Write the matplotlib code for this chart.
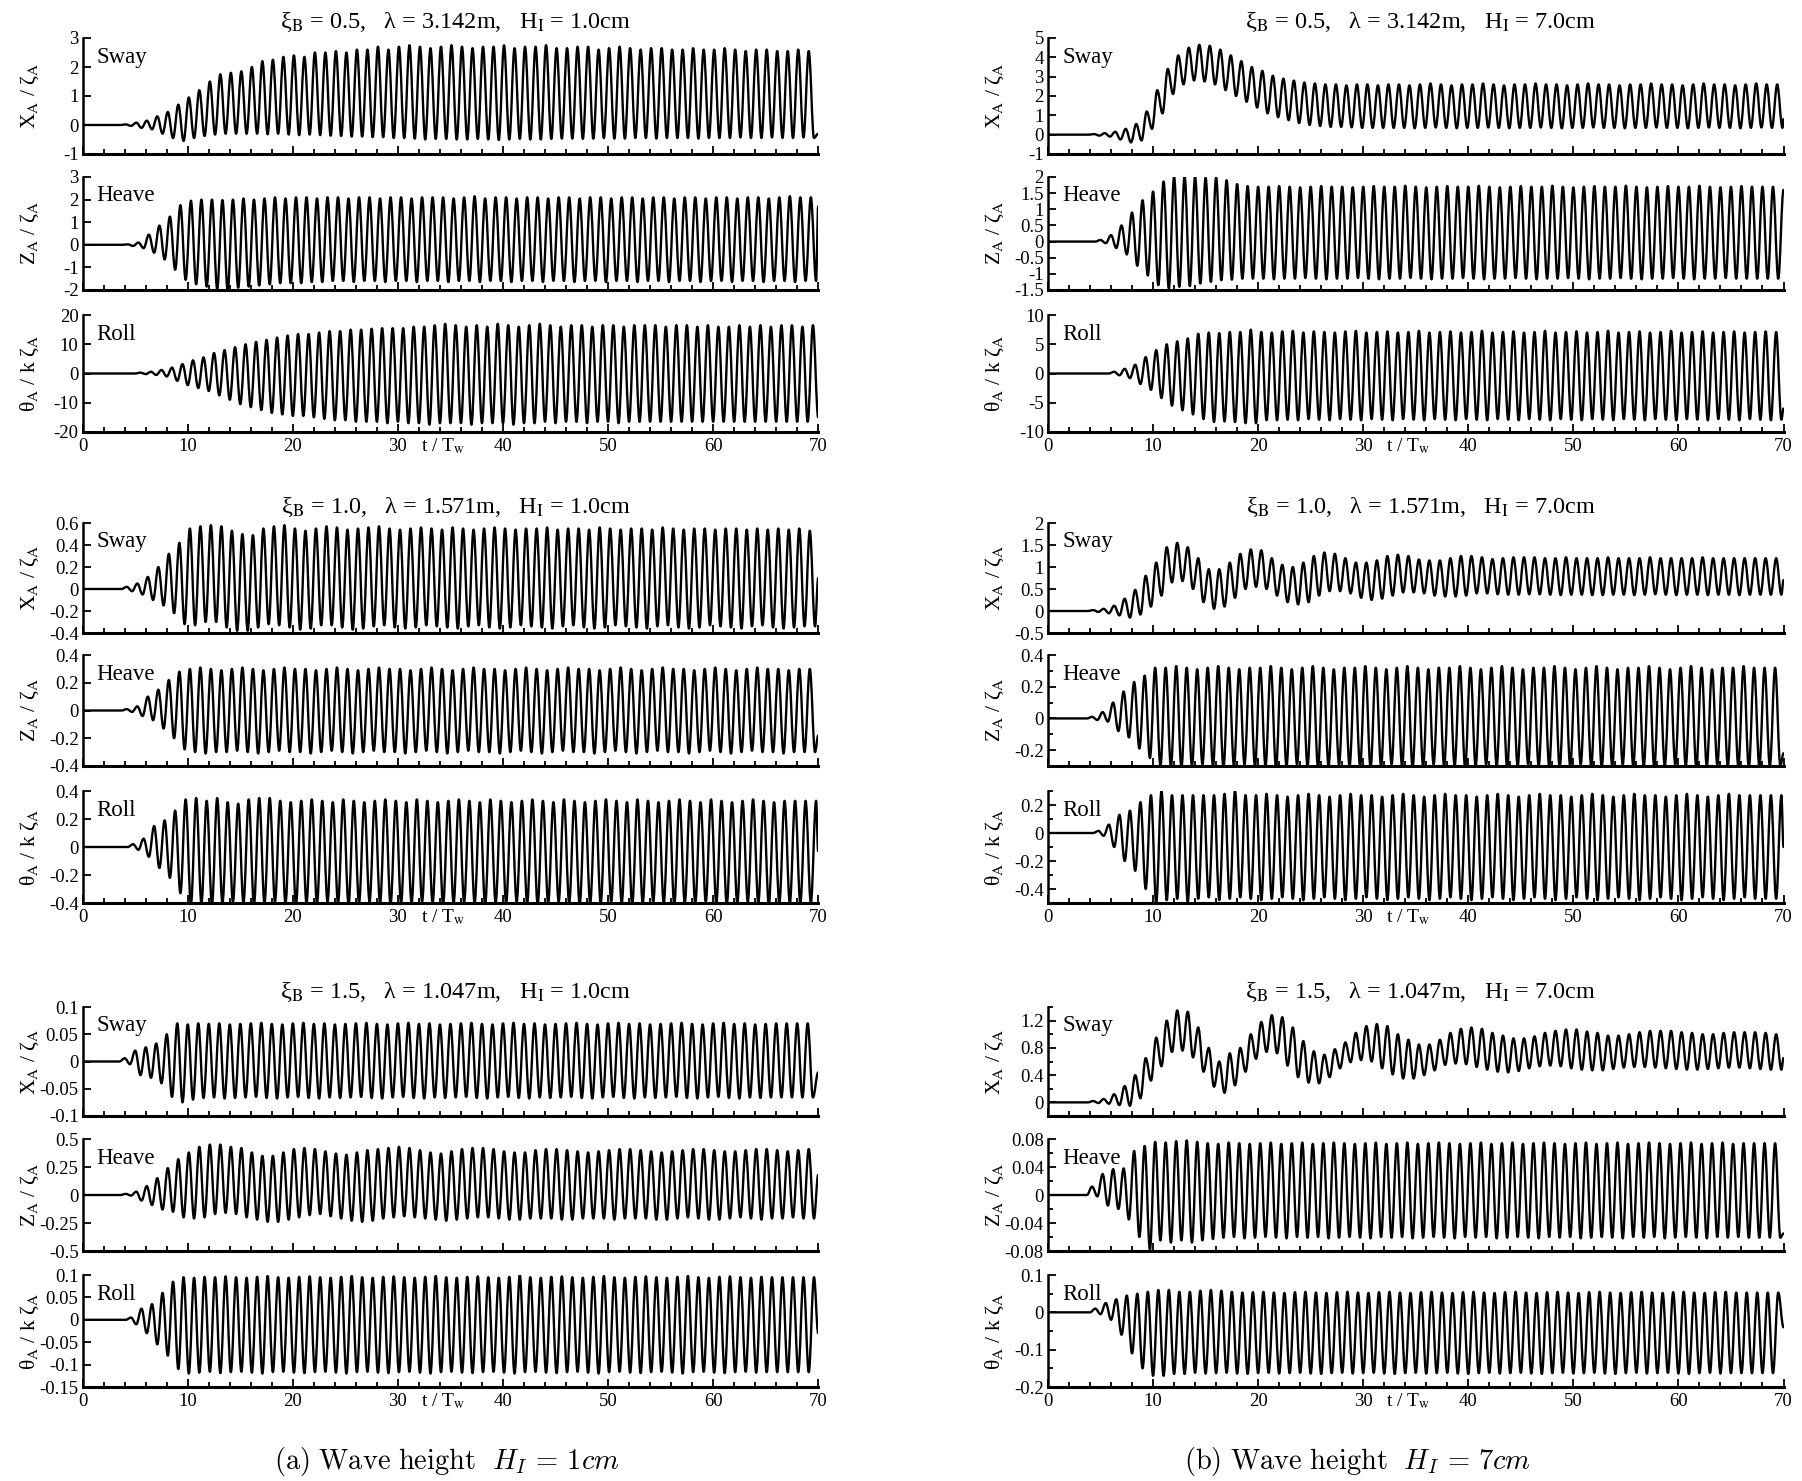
import numpy as np
import matplotlib
matplotlib.use("Agg")
import matplotlib.pyplot as plt
from matplotlib.ticker import FixedLocator, MultipleLocator, FormatStrFormatter
from matplotlib.transforms import blended_transform_factory
from matplotlib.path import Path
from matplotlib.patches import PathPatch

plt.rcParams['font.family'] = ['Liberation Serif', 'DejaVu Serif']
plt.rcParams['mathtext.fontset'] = 'stix'

# ---------------- data (extrema per wave cycle) ----------------
XI = ["0.5", "1.0", "1.5"]
LAM = ["3.142", "1.571", "1.047"]
HI = ["1.0", "7.0"]
MODES = ["Sway", "Heave", "Roll"]
YLABELS = ["X$_\\mathrm{A}$ / ζ$_\\mathrm{A}$", "Z$_\\mathrm{A}$ / ζ$_\\mathrm{A}$",
           "θ$_\\mathrm{A}$ / k ζ$_\\mathrm{A}$"]
XTICKS = [0, 10, 20, 30, 40, 50, 60, 70]

# --- H = 1 cm, xi = 0.5
A1_T0, A1_END = 4.1, -0.3
A1_MAX = [0.02, 0.08, 0.15, 0.30, 0.45, 0.70, 0.95, 1.20, 1.50, 1.75,
          1.80, 1.85, 2.00, 2.20, 2.25, 2.35, 2.40, 2.35, 2.50, 2.50,
          2.55, 2.50, 2.60, 2.60, 2.70, 2.60, 2.70, 2.75, 2.70, 2.65,
          2.70, 2.75, 2.70, 2.65, 2.70, 2.70, 2.75, 2.65, 2.70, 2.70,
          2.75, 2.65, 2.65, 2.70, 2.70, 2.60, 2.65, 2.70, 2.65, 2.60,
          2.65, 2.65, 2.60, 2.60, 2.65, 2.60, 2.60, 2.65, 2.60, 2.55,
          2.60, 2.60, 2.55, 2.55, 2.60, 2.55, 2.55, 2.55, 2.55, 2.55]
A1_MIN = [-0.03, -0.10, -0.15, -0.30, -0.45, -0.55, -0.45, -0.38, -0.33, -0.30,
          -0.30, -0.30, -0.30, -0.32, -0.30, -0.33, -0.35, -0.33, -0.35, -0.37,
          -0.38, -0.40, -0.40, -0.42, -0.42, -0.45, -0.45, -0.47, -0.50, -0.48,
          -0.48, -0.50, -0.50, -0.48, -0.50, -0.52, -0.50, -0.48, -0.50, -0.50,
          -0.48, -0.47, -0.47, -0.48, -0.47, -0.45, -0.47, -0.47, -0.45, -0.45,
          -0.47, -0.45, -0.45, -0.45, -0.47, -0.45, -0.45, -0.45, -0.43, -0.45,
          -0.45, -0.43, -0.45, -0.45, -0.43, -0.45, -0.45, -0.45, -0.45, -0.45]
A2_T0, A2_END = 4.3, 1.7
A2_MAX = [0.02, 0.10, 0.45, 0.85, 1.25, 1.75, 1.95, 2.00, 2.00, 1.98,
          2.00, 2.05, 2.00, 2.05, 2.10, 2.05, 2.10, 2.10, 2.05, 2.10,
          2.10, 2.05, 2.10, 2.10, 2.05, 2.10, 2.10, 2.05, 2.10, 2.10,
          2.10, 2.05, 2.10, 2.15, 2.05, 2.10, 2.10, 2.05, 2.10, 2.10,
          2.05, 2.10, 2.10, 2.05, 2.10, 2.10, 2.05, 2.10, 2.10, 2.05,
          2.10, 2.10, 2.05, 2.10, 2.10, 2.05, 2.10, 2.10, 2.05, 2.10,
          2.10, 2.05, 2.10, 2.15, 2.10, 2.10, 2.10, 2.10, 2.10, 2.10]
A2_MIN = [-0.05, -0.15, -0.35, -0.65, -1.10, -1.55, -1.75, -1.85, -1.95, -2.00,
          -1.90, -1.85, -1.80, -1.75, -1.70, -1.70, -1.70, -1.65, -1.65, -1.60,
          -1.60, -1.65, -1.60, -1.60, -1.65, -1.60, -1.60, -1.65, -1.60, -1.60,
          -1.65, -1.60, -1.60, -1.65, -1.60, -1.60, -1.65, -1.60, -1.60, -1.65,
          -1.60, -1.60, -1.65, -1.60, -1.60, -1.65, -1.60, -1.60, -1.65, -1.60,
          -1.60, -1.65, -1.60, -1.60, -1.65, -1.60, -1.60, -1.65, -1.60, -1.60,
          -1.65, -1.60, -1.60, -1.65, -1.60, -1.60, -1.60, -1.60, -1.60, -1.60]
A3_T0, A3_END = 5.5, -15.0
A3_MAX = [0.3, 0.6, 1.2, 2.0, 3.2, 4.5, 5.5, 7.0, 8.0, 9.0,
          10.0, 10.8, 11.5, 12.3, 13.0, 13.5, 13.5, 14.0, 14.5, 14.5,
          15.0, 15.0, 15.3, 15.5, 15.5, 15.5, 16.0, 16.0, 16.5, 17.0,
          16.5, 16.0, 16.5, 16.0, 17.0, 16.5, 16.0, 16.5, 17.0, 16.5,
          16.0, 16.5, 16.5, 16.0, 16.5, 16.5, 16.0, 16.5, 16.5, 16.5,
          16.0, 16.5, 16.5, 16.0, 16.5, 16.0, 16.0, 16.5, 16.0, 16.5,
          16.0, 16.5, 16.5, 16.0, 16.5, 16.5, 16.5, 16.5, 16.5, 16.5]
A3_MIN = [-0.2, -0.5, -1.0, -2.5, -4.0, -5.0, -6.0, -7.5, -9.0, -10.5,
          -11.5, -12.5, -13.5, -14.0, -14.5, -14.5, -15.0, -15.5, -16.0, -16.0,
          -16.5, -16.5, -16.5, -17.0, -16.5, -17.0, -17.0, -17.5, -17.0, -17.0,
          -17.0, -17.5, -17.0, -17.0, -17.0, -17.5, -17.0, -17.0, -16.5, -17.0,
          -16.5, -16.5, -17.0, -16.5, -16.5, -17.0, -16.5, -16.5, -16.5, -16.5,
          -16.5, -16.5, -16.5, -16.5, -16.5, -16.5, -16.5, -16.5, -16.5, -16.5,
          -16.5, -16.5, -16.5, -16.5, -16.5, -16.5, -16.5, -16.5, -16.5, -16.5]

# --- H = 7 cm, xi = 0.5
B1_T0, B1_END = 4.4, 0.8
B1_MAX = [0.03, 0.08, 0.15, 0.30, 0.55, 1.20, 2.30, 3.40, 4.10, 4.50,
          4.65, 4.60, 4.40, 4.10, 3.80, 3.50, 3.30, 3.05, 2.90, 2.80,
          2.70, 2.65, 2.60, 2.60, 2.55, 2.60, 2.60, 2.55, 2.60, 2.60,
          2.55, 2.60, 2.65, 2.60, 2.55, 2.60, 2.60, 2.65, 2.60, 2.55,
          2.60, 2.60, 2.65, 2.60, 2.60, 2.55, 2.60, 2.65, 2.60, 2.60,
          2.55, 2.60, 2.60, 2.65, 2.60, 2.60, 2.55, 2.60, 2.65, 2.60,
          2.60, 2.55, 2.60, 2.65, 2.60, 2.60, 2.60, 2.60, 2.60, 2.60]
B1_MIN = [-0.05, -0.10, -0.25, -0.40, -0.30, 0.30, 1.10, 2.10, 2.60, 2.80,
          2.75, 2.60, 2.30, 2.00, 1.70, 1.40, 1.10, 0.90, 0.75, 0.60,
          0.50, 0.45, 0.40, 0.40, 0.38, 0.35, 0.35, 0.35, 0.35, 0.35,
          0.33, 0.35, 0.37, 0.35, 0.33, 0.35, 0.35, 0.37, 0.35, 0.33,
          0.35, 0.35, 0.37, 0.35, 0.33, 0.35, 0.35, 0.37, 0.35, 0.35,
          0.33, 0.35, 0.35, 0.37, 0.35, 0.35, 0.33, 0.35, 0.37, 0.35,
          0.35, 0.33, 0.35, 0.37, 0.35, 0.35, 0.35, 0.35, 0.35, 0.35]
B2_T0, B2_END = 5.0, 1.6
B2_MAX = [0.05, 0.20, 0.50, 0.90, 1.28, 1.55, 1.86, 2.00, 2.02, 2.00,
          1.98, 1.98, 1.90, 1.78, 1.72, 1.70, 1.70, 1.72, 1.70, 1.68,
          1.70, 1.72, 1.70, 1.70, 1.68, 1.70, 1.72, 1.70, 1.70, 1.73,
          1.70, 1.68, 1.70, 1.72, 1.70, 1.70, 1.73, 1.70, 1.68, 1.70,
          1.72, 1.70, 1.70, 1.73, 1.70, 1.68, 1.70, 1.72, 1.70, 1.70,
          1.73, 1.70, 1.68, 1.70, 1.72, 1.70, 1.70, 1.73, 1.70, 1.68,
          1.70, 1.72, 1.70, 1.70, 1.70, 1.70, 1.70, 1.70, 1.70, 1.70]
B2_MIN = [-0.05, -0.20, -0.40, -0.75, -1.05, -1.35, -1.45, -1.40, -1.38, -1.30,
          -1.25, -1.20, -1.18, -1.15, -1.15, -1.15, -1.17, -1.15, -1.15, -1.13,
          -1.15, -1.17, -1.15, -1.15, -1.13, -1.15, -1.17, -1.15, -1.15, -1.13,
          -1.15, -1.17, -1.15, -1.15, -1.13, -1.15, -1.17, -1.15, -1.15, -1.13,
          -1.15, -1.17, -1.15, -1.15, -1.13, -1.15, -1.17, -1.15, -1.15, -1.13,
          -1.15, -1.17, -1.15, -1.15, -1.13, -1.15, -1.17, -1.15, -1.15, -1.13,
          -1.15, -1.15, -1.15, -1.15, -1.15, -1.15, -1.15, -1.15, -1.15, -1.15]
B3_T0, B3_END = 6.3, -6.0
B3_MAX = [0.3, 0.8, 1.5, 2.8, 4.0, 5.0, 5.5, 6.0, 6.8, 7.0,
          6.9, 7.1, 7.1, 7.5, 7.1, 7.0, 7.2, 7.3, 7.0, 7.2,
          7.1, 7.0, 7.2, 7.3, 7.0, 7.1, 7.2, 7.0, 7.1, 7.3,
          7.0, 7.1, 7.2, 7.0, 7.1, 7.3, 7.0, 7.1, 7.2, 7.0,
          7.1, 7.3, 7.0, 7.1, 7.2, 7.0, 7.1, 7.3, 7.0, 7.1,
          7.2, 7.0, 7.1, 7.3, 7.0, 7.1, 7.2, 7.0, 7.1, 7.2,
          7.0, 7.1, 7.2, 7.1, 7.1, 7.1, 7.1, 7.1, 7.1, 7.1]
B3_MIN = [-0.3, -0.8, -1.8, -2.8, -4.2, -5.5, -6.3, -7.0, -7.8, -8.3,
          -8.2, -8.3, -8.5, -8.5, -8.0, -8.0, -7.9, -8.0, -7.8, -7.9,
          -8.0, -7.8, -7.9, -8.0, -7.8, -7.9, -8.0, -7.8, -7.9, -8.0,
          -7.8, -7.9, -8.0, -7.8, -7.9, -8.0, -7.8, -7.9, -8.0, -7.8,
          -7.9, -8.0, -7.8, -7.9, -8.0, -7.8, -7.9, -8.0, -7.8, -7.9,
          -8.0, -7.8, -7.9, -8.0, -7.8, -7.9, -8.0, -7.8, -7.9, -8.0,
          -7.8, -7.9, -8.0, -7.9, -7.9, -7.9, -7.9, -7.9, -7.9, -7.9]

# --- H = 1 cm, xi = 1.0
C1_T0, C1_END = 4.2, 0.1
C1_MAX = [0.02, 0.05, 0.11, 0.20, 0.32, 0.42, 0.55, 0.57, 0.58, 0.57,
          0.53, 0.50, 0.49, 0.55, 0.57, 0.58, 0.55, 0.53, 0.55, 0.57,
          0.56, 0.54, 0.55, 0.56, 0.57, 0.55, 0.54, 0.55, 0.56, 0.55,
          0.54, 0.56, 0.55, 0.54, 0.55, 0.56, 0.55, 0.54, 0.55, 0.55,
          0.56, 0.54, 0.55, 0.55, 0.54, 0.56, 0.55, 0.54, 0.55, 0.55,
          0.54, 0.56, 0.55, 0.54, 0.55, 0.55, 0.54, 0.55, 0.55, 0.54,
          0.55, 0.54, 0.55, 0.54, 0.55, 0.53, 0.54, 0.54, 0.54, 0.54]
C1_MIN = [-0.02, -0.05, -0.10, -0.15, -0.22, -0.32, -0.33, -0.30, -0.30, -0.35,
          -0.38, -0.38, -0.35, -0.32, -0.33, -0.35, -0.37, -0.36, -0.33, -0.33,
          -0.35, -0.37, -0.36, -0.34, -0.33, -0.35, -0.36, -0.35, -0.33, -0.34,
          -0.35, -0.36, -0.34, -0.33, -0.35, -0.36, -0.35, -0.33, -0.34, -0.35,
          -0.36, -0.34, -0.33, -0.35, -0.36, -0.35, -0.33, -0.34, -0.35, -0.36,
          -0.34, -0.33, -0.35, -0.36, -0.35, -0.33, -0.34, -0.35, -0.36, -0.34,
          -0.33, -0.35, -0.36, -0.35, -0.34, -0.34, -0.34, -0.34, -0.34, -0.34]
C2_T0, C2_END = 4.2, -0.18
C2_MAX = [0.01, 0.03, 0.10, 0.15, 0.22, 0.28, 0.30, 0.31, 0.30, 0.29,
          0.30, 0.31, 0.30, 0.29, 0.30, 0.31, 0.30, 0.30, 0.29, 0.30,
          0.31, 0.30, 0.29, 0.30, 0.31, 0.30, 0.30, 0.29, 0.30, 0.31,
          0.30, 0.29, 0.30, 0.31, 0.30, 0.30, 0.29, 0.30, 0.31, 0.30,
          0.29, 0.30, 0.31, 0.30, 0.30, 0.29, 0.30, 0.31, 0.30, 0.29,
          0.30, 0.31, 0.30, 0.30, 0.29, 0.30, 0.31, 0.30, 0.29, 0.30,
          0.31, 0.30, 0.30, 0.29, 0.30, 0.30, 0.30, 0.30, 0.30, 0.30]
C2_MIN = [-0.01, -0.04, -0.07, -0.13, -0.20, -0.28, -0.30, -0.31, -0.30, -0.30,
          -0.29, -0.30, -0.31, -0.30, -0.29, -0.30, -0.30, -0.31, -0.30, -0.29,
          -0.30, -0.31, -0.30, -0.29, -0.30, -0.30, -0.31, -0.30, -0.29, -0.30,
          -0.31, -0.30, -0.29, -0.30, -0.30, -0.31, -0.30, -0.29, -0.30, -0.31,
          -0.30, -0.29, -0.30, -0.30, -0.31, -0.30, -0.29, -0.30, -0.31, -0.30,
          -0.29, -0.30, -0.30, -0.31, -0.30, -0.29, -0.30, -0.31, -0.30, -0.29,
          -0.30, -0.30, -0.31, -0.30, -0.30, -0.30, -0.30, -0.30, -0.30, -0.30]
C3_T0, C3_END = 4.8, -0.03
C3_MAX = [0.02, 0.06, 0.15, 0.19, 0.26, 0.34, 0.35, 0.33, 0.35, 0.32,
          0.31, 0.34, 0.35, 0.35, 0.33, 0.32, 0.33, 0.34, 0.33, 0.32,
          0.34, 0.33, 0.32, 0.33, 0.34, 0.33, 0.32, 0.34, 0.33, 0.32,
          0.33, 0.34, 0.33, 0.32, 0.34, 0.33, 0.32, 0.33, 0.34, 0.33,
          0.32, 0.34, 0.33, 0.32, 0.33, 0.34, 0.33, 0.32, 0.34, 0.33,
          0.32, 0.33, 0.34, 0.33, 0.32, 0.34, 0.33, 0.32, 0.33, 0.34,
          0.33, 0.32, 0.33, 0.33, 0.33, 0.33, 0.33, 0.33, 0.33, 0.33]
C3_MIN = [-0.02, -0.07, -0.15, -0.22, -0.33, -0.41, -0.40, -0.41, -0.40, -0.39,
          -0.40, -0.41, -0.40, -0.39, -0.40, -0.41, -0.40, -0.40, -0.39, -0.40,
          -0.41, -0.40, -0.39, -0.40, -0.41, -0.40, -0.40, -0.39, -0.40, -0.41,
          -0.40, -0.39, -0.40, -0.41, -0.40, -0.40, -0.39, -0.40, -0.41, -0.40,
          -0.39, -0.40, -0.41, -0.40, -0.40, -0.39, -0.40, -0.41, -0.40, -0.39,
          -0.40, -0.41, -0.40, -0.40, -0.39, -0.40, -0.41, -0.40, -0.39, -0.40,
          -0.41, -0.40, -0.40, -0.40, -0.40, -0.40, -0.40, -0.40, -0.40, -0.40]

# --- H = 7 cm, xi = 1.0
D1_T0, D1_END = 4.3, 0.7
D1_MAX = [0.02, 0.05, 0.12, 0.28, 0.48, 0.80, 1.10, 1.45, 1.55, 1.45,
          1.20, 0.95, 0.95, 1.10, 1.30, 1.40, 1.38, 1.20, 1.05, 1.00,
          1.10, 1.25, 1.33, 1.30, 1.20, 1.10, 1.10, 1.15, 1.25, 1.28,
          1.25, 1.17, 1.15, 1.15, 1.20, 1.25, 1.25, 1.22, 1.18, 1.20,
          1.22, 1.22, 1.22, 1.20, 1.20, 1.22, 1.20, 1.20, 1.20, 1.22,
          1.20, 1.20, 1.20, 1.22, 1.20, 1.20, 1.20, 1.20, 1.22, 1.20,
          1.20, 1.20, 1.20, 1.20, 1.20, 1.20, 1.20, 1.20, 1.20, 1.20]
D1_MIN = [-0.02, -0.05, -0.10, -0.15, -0.08, 0.10, 0.35, 0.65, 0.68, 0.50,
          0.20, 0.05, 0.10, 0.30, 0.50, 0.55, 0.50, 0.35, 0.20, 0.15,
          0.20, 0.35, 0.45, 0.45, 0.40, 0.30, 0.25, 0.28, 0.35, 0.42,
          0.42, 0.40, 0.35, 0.33, 0.33, 0.35, 0.40, 0.40, 0.38, 0.37,
          0.37, 0.38, 0.38, 0.37, 0.36, 0.37, 0.37, 0.36, 0.36, 0.37,
          0.37, 0.36, 0.37, 0.38, 0.37, 0.36, 0.37, 0.37, 0.36, 0.37,
          0.37, 0.36, 0.37, 0.37, 0.37, 0.37, 0.37, 0.37, 0.37, 0.37]
D2_T0, D2_END = 4.2, -0.22
D2_MAX = [0.01, 0.04, 0.10, 0.17, 0.23, 0.27, 0.32, 0.32, 0.33, 0.32,
          0.31, 0.32, 0.33, 0.32, 0.31, 0.32, 0.32, 0.33, 0.32, 0.31,
          0.32, 0.33, 0.32, 0.31, 0.32, 0.32, 0.33, 0.32, 0.31, 0.32,
          0.33, 0.32, 0.31, 0.32, 0.32, 0.33, 0.32, 0.31, 0.32, 0.33,
          0.32, 0.31, 0.32, 0.32, 0.33, 0.32, 0.31, 0.32, 0.33, 0.32,
          0.31, 0.32, 0.32, 0.33, 0.32, 0.31, 0.32, 0.33, 0.32, 0.31,
          0.32, 0.32, 0.33, 0.32, 0.32, 0.32, 0.32, 0.32, 0.32, 0.32]
D2_MIN = [-0.01, -0.02, -0.08, -0.12, -0.19, -0.25, -0.30, -0.30, -0.31, -0.30,
          -0.29, -0.30, -0.31, -0.30, -0.29, -0.30, -0.30, -0.31, -0.30, -0.29,
          -0.30, -0.31, -0.30, -0.29, -0.30, -0.30, -0.31, -0.30, -0.29, -0.30,
          -0.31, -0.30, -0.29, -0.30, -0.30, -0.31, -0.30, -0.29, -0.30, -0.31,
          -0.30, -0.29, -0.30, -0.30, -0.31, -0.30, -0.29, -0.30, -0.31, -0.30,
          -0.29, -0.30, -0.30, -0.31, -0.30, -0.29, -0.30, -0.31, -0.30, -0.29,
          -0.30, -0.30, -0.31, -0.30, -0.30, -0.30, -0.30, -0.30, -0.30, -0.30]
D3_T0, D3_END = 4.8, -0.1
D3_MAX = [0.015, 0.06, 0.13, 0.16, 0.22, 0.27, 0.30, 0.27, 0.27, 0.27,
          0.27, 0.27, 0.28, 0.30, 0.27, 0.27, 0.28, 0.27, 0.26, 0.27,
          0.28, 0.27, 0.26, 0.27, 0.28, 0.27, 0.27, 0.26, 0.27, 0.28,
          0.27, 0.26, 0.27, 0.28, 0.27, 0.27, 0.26, 0.27, 0.28, 0.27,
          0.26, 0.27, 0.28, 0.27, 0.27, 0.26, 0.27, 0.28, 0.27, 0.26,
          0.27, 0.28, 0.27, 0.27, 0.26, 0.27, 0.28, 0.27, 0.26, 0.27,
          0.28, 0.27, 0.27, 0.27, 0.27, 0.27, 0.27, 0.27, 0.27, 0.27]
D3_MIN = [-0.02, -0.10, -0.20, -0.27, -0.40, -0.50, -0.48, -0.47, -0.49, -0.47,
          -0.46, -0.48, -0.47, -0.46, -0.47, -0.48, -0.47, -0.46, -0.47, -0.48,
          -0.47, -0.46, -0.47, -0.48, -0.47, -0.46, -0.47, -0.48, -0.47, -0.46,
          -0.47, -0.48, -0.47, -0.46, -0.47, -0.48, -0.47, -0.46, -0.47, -0.48,
          -0.47, -0.46, -0.47, -0.48, -0.47, -0.46, -0.47, -0.48, -0.47, -0.46,
          -0.47, -0.48, -0.47, -0.46, -0.47, -0.48, -0.47, -0.46, -0.47, -0.48,
          -0.47, -0.46, -0.47, -0.47, -0.47, -0.47, -0.47, -0.47, -0.47, -0.47]

# --- H = 1 cm, xi = 1.5
E1_T0, E1_END = 4.0, -0.02
E1_MAX = [0.006, 0.020, 0.026, 0.033, 0.050, 0.070, 0.068, 0.070, 0.069, 0.070,
          0.068, 0.069, 0.070, 0.071, 0.069, 0.068, 0.070, 0.071, 0.069, 0.070,
          0.068, 0.069, 0.070, 0.071, 0.069, 0.068, 0.070, 0.071, 0.069, 0.070,
          0.068, 0.069, 0.070, 0.071, 0.069, 0.068, 0.070, 0.071, 0.069, 0.070,
          0.068, 0.069, 0.070, 0.071, 0.069, 0.068, 0.070, 0.071, 0.069, 0.070,
          0.068, 0.069, 0.070, 0.071, 0.069, 0.068, 0.070, 0.071, 0.069, 0.070,
          0.068, 0.069, 0.070, 0.070, 0.070, 0.070, 0.070, 0.070, 0.070, 0.070]
E1_MIN = [-0.005, -0.025, -0.030, -0.040, -0.065, -0.075, -0.070, -0.067, -0.066, -0.068,
          -0.067, -0.066, -0.065, -0.067, -0.068, -0.066, -0.065, -0.067, -0.068, -0.066,
          -0.067, -0.066, -0.065, -0.067, -0.068, -0.066, -0.065, -0.067, -0.068, -0.066,
          -0.067, -0.066, -0.065, -0.067, -0.068, -0.066, -0.065, -0.067, -0.068, -0.066,
          -0.067, -0.066, -0.065, -0.067, -0.068, -0.066, -0.065, -0.067, -0.068, -0.066,
          -0.067, -0.066, -0.065, -0.067, -0.068, -0.066, -0.065, -0.067, -0.068, -0.066,
          -0.067, -0.066, -0.066, -0.066, -0.066, -0.066, -0.066, -0.066, -0.066, -0.066]
E2_T0, E2_END = 4.1, 0.18
E2_MAX = [0.01, 0.03, 0.08, 0.15, 0.24, 0.32, 0.38, 0.43, 0.45, 0.45,
          0.43, 0.42, 0.38, 0.35, 0.35, 0.38, 0.41, 0.42, 0.41, 0.39,
          0.37, 0.36, 0.38, 0.40, 0.41, 0.42, 0.43, 0.42, 0.40, 0.38,
          0.37, 0.39, 0.41, 0.42, 0.42, 0.41, 0.39, 0.38, 0.38, 0.40,
          0.41, 0.41, 0.40, 0.39, 0.38, 0.39, 0.40, 0.41, 0.41, 0.40,
          0.39, 0.38, 0.39, 0.40, 0.41, 0.41, 0.40, 0.39, 0.39, 0.40,
          0.41, 0.41, 0.40, 0.39, 0.40, 0.41, 0.41, 0.41, 0.41, 0.41]
E2_MIN = [-0.005, -0.05, -0.09, -0.13, -0.15, -0.20, -0.21, -0.20, -0.17, -0.16,
          -0.17, -0.20, -0.22, -0.24, -0.24, -0.22, -0.20, -0.18, -0.17, -0.19,
          -0.21, -0.23, -0.24, -0.23, -0.21, -0.20, -0.19, -0.20, -0.21, -0.22,
          -0.23, -0.22, -0.21, -0.20, -0.20, -0.21, -0.22, -0.22, -0.21, -0.21,
          -0.21, -0.22, -0.22, -0.21, -0.21, -0.21, -0.22, -0.21, -0.21, -0.21,
          -0.22, -0.22, -0.21, -0.20, -0.21, -0.22, -0.22, -0.21, -0.20, -0.21,
          -0.22, -0.21, -0.21, -0.20, -0.21, -0.21, -0.21, -0.21, -0.21, -0.21]
E3_T0, E3_END = 4.6, -0.03
E3_MAX = [0.005, 0.025, 0.035, 0.060, 0.085, 0.095, 0.094, 0.096, 0.095, 0.097,
          0.095, 0.094, 0.096, 0.098, 0.095, 0.094, 0.096, 0.097, 0.095, 0.094,
          0.096, 0.098, 0.095, 0.094, 0.096, 0.097, 0.095, 0.094, 0.096, 0.098,
          0.095, 0.094, 0.096, 0.097, 0.095, 0.094, 0.096, 0.100, 0.095, 0.094,
          0.096, 0.097, 0.095, 0.094, 0.096, 0.098, 0.095, 0.094, 0.096, 0.097,
          0.095, 0.094, 0.096, 0.098, 0.095, 0.094, 0.096, 0.097, 0.095, 0.094,
          0.096, 0.095, 0.095, 0.095, 0.095, 0.095, 0.095, 0.095, 0.095, 0.095]
E3_MIN = [-0.010, -0.030, -0.055, -0.080, -0.110, -0.120, -0.118, -0.116, -0.119, -0.117,
          -0.116, -0.118, -0.120, -0.117, -0.116, -0.118, -0.119, -0.117, -0.116, -0.118,
          -0.120, -0.117, -0.116, -0.118, -0.119, -0.117, -0.116, -0.118, -0.120, -0.117,
          -0.116, -0.118, -0.119, -0.117, -0.116, -0.118, -0.120, -0.117, -0.116, -0.118,
          -0.119, -0.117, -0.116, -0.118, -0.120, -0.117, -0.116, -0.118, -0.119, -0.117,
          -0.116, -0.118, -0.120, -0.117, -0.116, -0.118, -0.119, -0.117, -0.116, -0.118,
          -0.117, -0.117, -0.117, -0.117, -0.117, -0.117, -0.117, -0.117, -0.117, -0.117]

# --- H = 7 cm, xi = 1.5
F1_T0, F1_END = 4.3, 0.65
F1_MAX = [0.02, 0.05, 0.12, 0.24, 0.40, 0.65, 0.95, 1.20, 1.35, 1.33,
          1.10, 0.80, 0.60, 0.72, 0.80, 1.00, 1.18, 1.28, 1.25, 1.10,
          0.90, 0.75, 0.70, 0.78, 0.88, 1.02, 1.12, 1.15, 1.12, 1.00,
          0.92, 0.85, 0.85, 0.92, 1.02, 1.08, 1.10, 1.08, 1.02, 0.98,
          0.94, 0.94, 0.97, 1.02, 1.05, 1.07, 1.07, 1.04, 1.02, 0.98,
          0.98, 1.00, 1.03, 1.05, 1.05, 1.05, 1.03, 1.02, 1.00, 1.00,
          1.02, 1.03, 1.03, 1.03, 1.02, 1.00, 1.00, 1.00, 1.00, 1.00]
F1_MIN = [-0.01, -0.02, -0.04, -0.05, 0.06, 0.32, 0.53, 0.74, 0.76, 0.66,
          0.45, 0.23, 0.14, 0.25, 0.45, 0.64, 0.74, 0.72, 0.54, 0.37,
          0.29, 0.28, 0.37, 0.50, 0.59, 0.62, 0.60, 0.50, 0.41, 0.35,
          0.35, 0.40, 0.47, 0.55, 0.57, 0.56, 0.52, 0.48, 0.45, 0.44,
          0.46, 0.50, 0.53, 0.54, 0.53, 0.50, 0.48, 0.47, 0.47, 0.49,
          0.51, 0.52, 0.52, 0.51, 0.50, 0.49, 0.48, 0.48, 0.49, 0.50,
          0.51, 0.51, 0.50, 0.49, 0.48, 0.48, 0.48, 0.48, 0.48, 0.48]
F2_T0, F2_END = 4.2, -0.055
F2_MAX = [0.012, 0.030, 0.037, 0.038, 0.063, 0.070, 0.076, 0.075, 0.077, 0.078,
          0.076, 0.074, 0.073, 0.075, 0.074, 0.073, 0.074, 0.075, 0.073, 0.074,
          0.075, 0.073, 0.074, 0.075, 0.074, 0.073, 0.074, 0.075, 0.073, 0.074,
          0.075, 0.073, 0.074, 0.075, 0.074, 0.073, 0.074, 0.075, 0.073, 0.074,
          0.075, 0.073, 0.074, 0.075, 0.074, 0.073, 0.074, 0.075, 0.073, 0.074,
          0.075, 0.073, 0.074, 0.075, 0.074, 0.073, 0.074, 0.075, 0.073, 0.074,
          0.075, 0.073, 0.074, 0.074, 0.074, 0.074, 0.074, 0.074, 0.074, 0.074]
F2_MIN = [-0.002, -0.015, -0.020, -0.035, -0.060, -0.078, -0.065, -0.068, -0.065, -0.068,
          -0.065, -0.063, -0.061, -0.060, -0.062, -0.061, -0.060, -0.061, -0.062, -0.060,
          -0.061, -0.060, -0.062, -0.061, -0.060, -0.061, -0.062, -0.060, -0.061, -0.060,
          -0.062, -0.061, -0.060, -0.061, -0.062, -0.060, -0.061, -0.060, -0.062, -0.061,
          -0.060, -0.061, -0.062, -0.060, -0.061, -0.060, -0.062, -0.061, -0.060, -0.061,
          -0.062, -0.060, -0.061, -0.060, -0.062, -0.061, -0.060, -0.061, -0.062, -0.060,
          -0.061, -0.060, -0.061, -0.061, -0.061, -0.061, -0.061, -0.061, -0.061, -0.061]
F3_T0, F3_END = 4.5, -0.04
F3_MAX = [0.010, 0.025, 0.035, 0.045, 0.050, 0.055, 0.060, 0.060, 0.055, 0.055,
          0.058, 0.060, 0.058, 0.055, 0.053, 0.054, 0.055, 0.053, 0.052, 0.054,
          0.055, 0.053, 0.052, 0.054, 0.055, 0.053, 0.052, 0.054, 0.055, 0.053,
          0.052, 0.054, 0.055, 0.053, 0.052, 0.054, 0.055, 0.053, 0.052, 0.054,
          0.055, 0.053, 0.052, 0.054, 0.055, 0.053, 0.052, 0.054, 0.055, 0.053,
          0.052, 0.054, 0.055, 0.053, 0.052, 0.054, 0.055, 0.053, 0.052, 0.054,
          0.055, 0.053, 0.053, 0.053, 0.053, 0.053, 0.053, 0.053, 0.053, 0.053]
F3_MIN = [-0.005, -0.020, -0.060, -0.110, -0.150, -0.170, -0.170, -0.165, -0.165, -0.162,
          -0.164, -0.163, -0.162, -0.164, -0.165, -0.163, -0.162, -0.164, -0.163, -0.162,
          -0.164, -0.165, -0.163, -0.162, -0.164, -0.163, -0.162, -0.164, -0.165, -0.163,
          -0.162, -0.164, -0.163, -0.162, -0.164, -0.165, -0.163, -0.162, -0.164, -0.163,
          -0.162, -0.164, -0.165, -0.163, -0.162, -0.164, -0.163, -0.162, -0.164, -0.165,
          -0.163, -0.162, -0.164, -0.163, -0.162, -0.164, -0.165, -0.163, -0.162, -0.164,
          -0.163, -0.163, -0.163, -0.163, -0.163, -0.163, -0.163, -0.163, -0.163, -0.163]

# axis ranges / ticks
YLIM = {
    "A1": (-1, 3), "A2": (-2, 3), "A3": (-20, 20),
    "B1": (-1, 5), "B2": (-1.5, 2), "B3": (-10, 10),
    "C1": (-0.4, 0.6), "C2": (-0.4, 0.4), "C3": (-0.4, 0.4),
    "D1": (-0.5, 2), "D2": (-0.3, 0.4), "D3": (-0.5, 0.3),
    "E1": (-0.1, 0.1), "E2": (-0.5, 0.5), "E3": (-0.15, 0.1),
    "F1": (-0.2, 1.4), "F2": (-0.08, 0.08), "F3": (-0.2, 0.1),
}
YTICKS = {
    "A1": [-1, 0, 1, 2, 3], "A2": [-2, -1, 0, 1, 2, 3], "A3": [-20, -10, 0, 10, 20],
    "B1": [-1, 0, 1, 2, 3, 4, 5], "B2": [-1.5, -1, -0.5, 0, 0.5, 1, 1.5, 2],
    "B3": [-10, -5, 0, 5, 10],
    "C1": [-0.4, -0.2, 0, 0.2, 0.4, 0.6], "C2": [-0.4, -0.2, 0, 0.2, 0.4],
    "C3": [-0.4, -0.2, 0, 0.2, 0.4],
    "D1": [-0.5, 0, 0.5, 1, 1.5, 2], "D2": [-0.2, 0, 0.2, 0.4], "D3": [-0.4, -0.2, 0, 0.2],
    "E1": [-0.1, -0.05, 0, 0.05, 0.1], "E2": [-0.5, -0.25, 0, 0.25, 0.5],
    "E3": [-0.15, -0.1, -0.05, 0, 0.05, 0.1],
    "F1": [0, 0.4, 0.8, 1.2], "F2": [-0.08, -0.04, 0, 0.04, 0.08], "F3": [-0.2, -0.1, 0, 0.1],
}
YMINOR = {
    "D2": [-0.3, -0.1, 0.1, 0.3], "D3": [-0.5, -0.3, -0.1, 0.1, 0.3],
    "F1": [-0.2, 0.2, 0.6, 1.0, 1.4], "F2": [-0.06, -0.02, 0.02, 0.06],
    "F3": [-0.15, -0.05, 0.05],
}

SERIES = {
    "A1": (A1_T0, A1_MAX, A1_MIN, A1_END), "A2": (A2_T0, A2_MAX, A2_MIN, A2_END),
    "A3": (A3_T0, A3_MAX, A3_MIN, A3_END), "B1": (B1_T0, B1_MAX, B1_MIN, B1_END),
    "B2": (B2_T0, B2_MAX, B2_MIN, B2_END), "B3": (B3_T0, B3_MAX, B3_MIN, B3_END),
    "C1": (C1_T0, C1_MAX, C1_MIN, C1_END), "C2": (C2_T0, C2_MAX, C2_MIN, C2_END),
    "C3": (C3_T0, C3_MAX, C3_MIN, C3_END), "D1": (D1_T0, D1_MAX, D1_MIN, D1_END),
    "D2": (D2_T0, D2_MAX, D2_MIN, D2_END), "D3": (D3_T0, D3_MAX, D3_MIN, D3_END),
    "E1": (E1_T0, E1_MAX, E1_MIN, E1_END), "E2": (E2_T0, E2_MAX, E2_MIN, E2_END),
    "E3": (E3_T0, E3_MAX, E3_MIN, E3_END), "F1": (F1_T0, F1_MAX, F1_MIN, F1_END),
    "F2": (F2_T0, F2_MAX, F2_MIN, F2_END), "F3": (F3_T0, F3_MAX, F3_MIN, F3_END),
}
KEYS = [["A", "C", "E"], ["B", "D", "F"]]  # [column][group]


def build_series(t0, mx, mn, end):
    n = min(len(mx), len(mn))
    vals = np.column_stack([mx[:n], mn[:n]]).ravel()
    times = t0 + 0.5 * np.arange(vals.size)
    keep = times < 70
    t = np.concatenate([[0.0, t0 - 0.5], times[keep], [70.0]])
    y = np.concatenate([[0.0, 0.0], vals[keep], [end]])
    return t, y


def smooth_path(t, y):
    # cubic Bezier segments through the extrema with flat tangents (cosine-like shape)
    k = 1.0 - 2.0 / np.pi
    verts = [(t[0], y[0])]
    codes = [Path.MOVETO]
    for i in range(len(t) - 1):
        h = t[i + 1] - t[i]
        verts += [(t[i] + k * h, y[i]), (t[i + 1] - k * h, y[i + 1]), (t[i + 1], y[i + 1])]
        codes += [Path.CURVE4] * 3
    return Path(verts, codes)


# ---------------- layout (pixel positions of the panels) ----------------
W, H = 1802, 1481
fig = plt.figure(figsize=(W / 100, H / 100), dpi=100)
COL_X = [82.7, 1048.0]
COL_W = 735.5
PANEL_TOP = [[38, 177, 315], [523, 655, 791], [1007, 1139, 1275]]
PANEL_BOT = [[154, 290, 432], [633, 766, 903], [1116, 1251, 1387]]
TITLE_Y = [22, 507, 992]

TICK_FS = 13.5
for col in range(2):
    for grp in range(3):
        for row in range(3):
            key = KEYS[col][grp] + str(row + 1)
            x0 = COL_X[col]
            y0 = PANEL_TOP[grp][row]
            ph = PANEL_BOT[grp][row] - y0
            ax = fig.add_axes([x0 / W, 1 - (y0 + ph) / H, COL_W / W, ph / H])
            t, y = build_series(*SERIES[key])
            ax.add_patch(PathPatch(smooth_path(t, y), facecolor="none", edgecolor="black",
                                   lw=1.7, joinstyle="round", capstyle="round"))
            ax.set_xlim(0, 70)
            ax.set_ylim(*YLIM[key])
            for s in ("top", "right"):
                ax.spines[s].set_visible(False)
            ax.spines["left"].set_linewidth(1.8)
            ax.spines["bottom"].set_linewidth(2.2)
            ax.xaxis.set_major_locator(FixedLocator(XTICKS))
            ax.xaxis.set_minor_locator(MultipleLocator(2))
            ax.yaxis.set_major_locator(FixedLocator(YTICKS[key]))
            if key in YMINOR:
                ax.yaxis.set_minor_locator(FixedLocator(YMINOR[key]))
            else:
                ax.yaxis.set_minor_locator(FixedLocator([]))
            ax.yaxis.set_major_formatter(FormatStrFormatter("%g"))
            ax.tick_params(which="major", direction="in", length=6, width=1.3,
                           labelsize=TICK_FS, pad=4)
            ax.tick_params(which="minor", direction="in", length=3.5, width=1.3)
            ax.tick_params(axis="y", which="both", pad=3)
            if row < 2:
                ax.tick_params(axis="x", labelbottom=False)
            ax.set_ylabel(YLABELS[row], fontsize=15.5)
            ax.yaxis.set_label_coords(-42 / COL_W, 0.5)
            ax.text(14 / COL_W, 1 - 19 / ph, MODES[row], transform=ax.transAxes,
                    fontsize=16.5, ha="left", va="center")
            if row == 0:
                fig.text((x0 + COL_W / 2 + 5) / W, 1 - TITLE_Y[grp] / H,
                         "ξ$_\\mathrm{B}$ = %s,   λ = %sm,   H$_\\mathrm{I}$ = %scm"
                         % (XI[grp], LAM[grp], HI[col]),
                         fontsize=17.5, ha="center", va="center")
            if row == 2:
                tr = blended_transform_factory(ax.transData, ax.transAxes)
                ax.text(34.3, -19 / ph, "t / T$_\\mathrm{w}$", transform=tr,
                        fontsize=14, ha="center", va="baseline")

fig.text(447 / W, 1 - 1462 / H, r"$\mathrm{(a)\ Wave\ height}\ \ H_I\, =\, 1cm$",
         math_fontfamily="cm", fontsize=20.5, ha="center", va="center")
fig.text(1358 / W, 1 - 1462 / H, r"$\mathrm{(b)\ Wave\ height}\ \ H_I\, =\, 7cm$",
         math_fontfamily="cm", fontsize=20.5, ha="center", va="center")

fig.savefig("out.png", dpi=100)
